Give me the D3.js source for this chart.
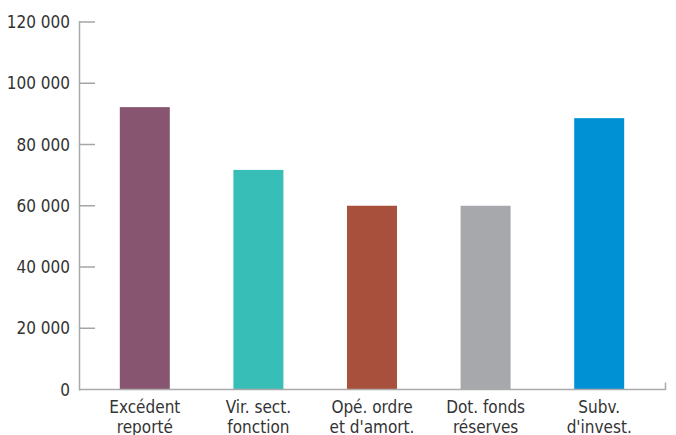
<!DOCTYPE html>
<html>
<head>
<meta charset="utf-8">
<script src="https://cdn.jsdelivr.net/npm/d3@7"></script>
<style>
  body { margin: 0; background: #fff; }
  text { font-family: "Liberation Sans Narrow", "DejaVu Sans Condensed", "Roboto", sans-serif; fill: #333; }
</style>
</head>
<body>
<div id="chart"></div>
<script>
// Data
var categories = ["Excédent|reporté", "Vir. sect.|fonction", "Opé. ordre|et d'amort.", "Dot. fonds|réserves", "Subv.|d'invest."];
var values = [92200, 71700, 60000, 60000, 88600];
var colors = ["#87556F", "#37BEB6", "#A8503B", "#A7A8AB", "#0091D4"];
var yTicks = [0, 20000, 40000, 60000, 80000, 100000, 120000];

var width = 676, height = 435;

var svg = d3.select('#chart')
    .append('svg')
    .attr('width', width)
    .attr('height', height);

// Scales
var y = d3.scaleLinear()
    .domain([0, 120000])
    .range([389.5, 22]);

var x = d3.scaleBand()
    .domain(categories)
    .range([88, 656])
    .paddingInner(0.56)
    .paddingOuter(0.28);

var fmt = function(d){ return d3.format(',')(d).replace(/,/g, ' '); };

// Bars
svg.append('g')
    .selectAll('rect')
    .data(values)
    .enter()
    .append('rect')
    .attr('x', function(d, i){ return x(categories[i]); })
    .attr('y', function(d){ return y(d); })
    .attr('width', x.bandwidth())
    .attr('height', function(d){ return y(0) - y(d); })
    .attr('fill', function(d, i){ return colors[i]; });

// Y axis
var yAxis = svg.append('g').attr('class', 'y-axis');
yAxis.append('line')
    .attr('x1', 79.5).attr('x2', 79.5)
    .attr('y1', y(120000) - 1).attr('y2', y(0) + 1)
    .attr('stroke', '#aaa').attr('stroke-width', 1.5);
yAxis.selectAll('.tick')
    .data(yTicks.filter(function(d){ return d > 0; }))
    .enter()
    .append('line')
    .attr('x1', 80).attr('x2', 95)
    .attr('y1', function(d){ return y(d); })
    .attr('y2', function(d){ return y(d); })
    .attr('stroke', '#a5a5a5').attr('stroke-width', 1.5);
yAxis.selectAll('text')
    .data(yTicks)
    .enter()
    .append('text')
    .attr('x', 70)
    .attr('y', function(d){ return y(d) + 6; })
    .attr('text-anchor', 'end')
    .style('font-size', '17px')
    .text(fmt);

// X axis
svg.append('line')
    .attr('x1', 79).attr('x2', 666)
    .attr('y1', y(0)).attr('y2', y(0))
    .attr('stroke', '#aaa').attr('stroke-width', 1.5);
svg.append('line')
    .attr('x1', 665.5).attr('x2', 665.5)
    .attr('y1', y(0)).attr('y2', y(0) - 7)
    .attr('stroke', '#aaa').attr('stroke-width', 1.5);

// Category labels (two lines)
var labels = svg.append('g')
    .selectAll('text')
    .data(categories)
    .enter()
    .append('text')
    .attr('text-anchor', 'middle')
    .style('font-size', '17px')
    .attr('transform', function(d){ return 'translate(' + (x(d) + x.bandwidth() / 2) + ',413)'; });
labels.selectAll('tspan')
    .data(function(d){ return d.split('|'); })
    .enter()
    .append('tspan')
    .attr('x', 0)
    .attr('y', function(d, i){ return i * 20; })
    .text(function(d){ return d; });
</script>
</body>
</html>
